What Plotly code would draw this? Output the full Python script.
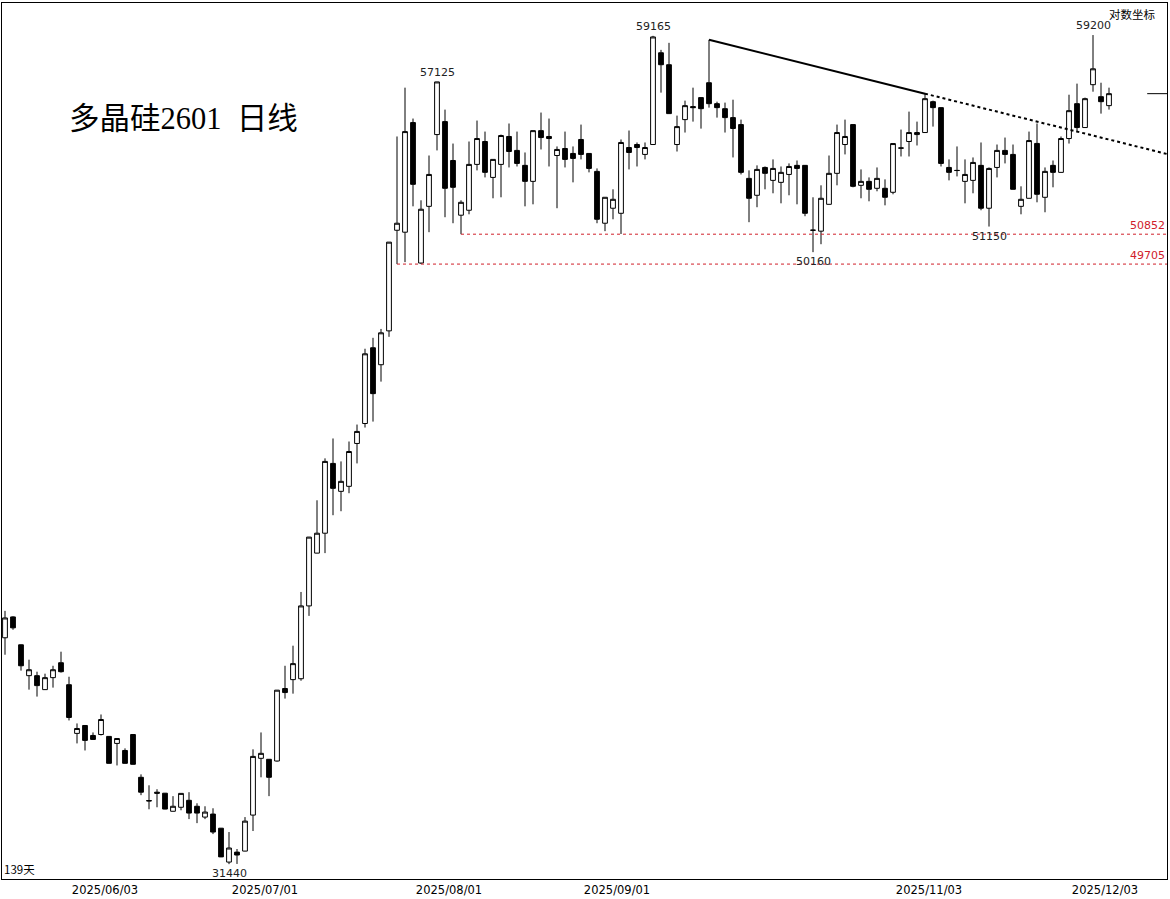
import math
import plotly.graph_objects as go

# ---------------- data ----------------
opens = [37370, 37970, 37170, 36305, 36305, 35920, 36250, 36665, 36055, 34740,
         34950, 34685, 34710, 34660, 34475, 34290, 34710, 33595, 33005, 33215,
         33190, 32735, 32835, 33010, 32860, 32590, 32665, 32315, 31490, 31730,
         31755, 32640, 34085, 34060, 34015, 35950, 36195, 36220, 38290, 39865,
         40475, 42690, 41790, 41950, 43345, 44010, 46630, 46030, 47235, 51005,
         50930, 55375, 49745, 51945, 54870, 55415, 53795, 51595, 51790, 53635,
         54580, 53105, 53635, 54790, 54210, 53595, 52945, 55035, 54790, 54000,
         54290, 54085, 54665, 54085, 53350, 51280, 51870, 51670, 54330, 54455,
         54045, 54455, 58405, 57875, 54455, 55500, 56055, 56440, 57085, 56180,
         55965, 55585, 55290, 53065, 52385, 53510, 52985, 52905, 53225, 53595,
         53595, 51010, 50970, 52025, 53270, 54455, 55290, 52785, 52945, 52665,
         52665, 52505, 54315, 54580, 54870, 54955, 56265, 56010, 53510, 53390,
         52945, 52985, 53595, 51870, 53510, 54210, 54045, 51945, 52265, 54500,
         52305, 53595, 53310, 54705, 56180, 55165, 57000, 56480, 56095]
highs = [38145, 37990, 37180, 36750, 36415, 36360, 36580, 36975, 36275, 35005,
         34960, 34765, 35245, 34665, 34610, 34345, 34715, 33670, 33390, 33290,
         33195, 33115, 33190, 33215, 32935, 32860, 32810, 32320, 32220, 31805,
         32590, 34320, 34765, 34065, 35910, 36580, 37145, 38700, 40360, 41505,
         42855, 43510, 42755, 43410, 43975, 46595, 46985, 47305, 50550, 54790,
         56870, 55545, 52185, 54000, 57125, 55925, 54495, 52185, 54580, 55460,
         54995, 53840, 54870, 55335, 54995, 54125, 55040, 55800, 55545, 54375,
         54995, 54375, 55290, 54090, 53470, 52305, 52625, 54665, 55040, 54540,
         54540, 59165, 58535, 58850, 55670, 56310, 56870, 56445, 58985, 56265,
         56225, 56350, 55500, 53390, 53595, 53550, 53840, 53550, 53675, 53795,
         53600, 52305, 52785, 54000, 55290, 55500, 55295, 53430, 53105, 53510,
         53025, 54500, 55080, 55840, 55415, 56610, 56310, 56015, 53840, 54375,
         53840, 53920, 54540, 53510, 54455, 54745, 54455, 52745, 54995, 55335,
         53510, 53795, 54790, 56565, 57045, 56440, 59200, 57085, 56870]
lows = [36890, 37600, 36445, 35920, 35730, 35910, 35975, 36390, 35085, 34475,
        34290, 34575, 34685, 33950, 33900, 33950, 33925, 33140, 32785, 32835,
        32785, 32730, 32760, 32540, 32440, 32540, 32170, 31610, 31440, 31445,
        31750, 32245, 33595, 33115, 34000, 35675, 35810, 36165, 38000, 39860,
        39865, 41035, 41160, 41730, 42690, 43875, 44075, 45440, 47020, 49705,
        49780, 51945, 49705, 50930, 54210, 51515, 51280, 50852, 51630, 53390,
        53105, 52265, 52305, 53510, 53550, 51945, 52025, 54250, 53550, 51870,
        53510, 52905, 53840, 53310, 51280, 50970, 51435, 50860, 53430, 53550,
        53840, 54455, 56655, 55750, 54165, 54955, 55415, 55120, 56010, 55585,
        54955, 53920, 53225, 51320, 51910, 52625, 52465, 52065, 52385, 52025,
        51555, 50160, 50465, 52020, 52785, 54045, 52705, 52265, 52145, 52545,
        51985, 52425, 53960, 53960, 54415, 54950, 55205, 53550, 52985, 53145,
        52065, 52465, 51790, 51150, 53105, 53675, 52620, 51630, 52260, 52105,
        51710, 52705, 53305, 54495, 54955, 55160, 56695, 55755, 55925]
closes = [37940, 37655, 36580, 36470, 36030, 36250, 36470, 36415, 35165, 34870,
          34555, 34580, 35110, 33955, 34605, 33955, 33930, 33215, 32995, 33190,
          32790, 32860, 33185, 32690, 32690, 32715, 32220, 31615, 31830, 31660,
          32490, 34135, 34215, 33595, 35905, 35840, 36640, 38290, 40355, 40475,
          42755, 41885, 42110, 43080, 43745, 46415, 45025, 47165, 50545, 51280,
          54995, 52825, 51830, 53225, 57120, 52665, 52705, 52105, 53635, 54705,
          53310, 53840, 54830, 54165, 53675, 52945, 55035, 54745, 54705, 54250,
          53840, 53880, 54045, 53470, 51435, 52305, 52225, 54540, 54125, 54330,
          54330, 59115, 57875, 55755, 55205, 56095, 56010, 55965, 56180, 56010,
          55585, 55125, 53310, 52265, 53430, 53270, 53470, 53310, 53550, 53470,
          51670, 51005, 52265, 53270, 54955, 54790, 52745, 52945, 52625, 53065,
          52305, 54495, 54305, 54955, 54955, 56395, 56010, 53675, 53310, 53385,
          53225, 53715, 51870, 53470, 54210, 54045, 52625, 52225, 54620, 52425,
          53350, 53310, 54705, 55880, 55165, 56395, 57695, 56265, 56610]

tick_index = [12, 32, 55, 76, 115, 137]
tick_labels = ["2025/06/03", "2025/07/01", "2025/08/01", "2025/09/01", "2025/11/03", "2025/12/03"]

# marked extremes: (candle index, price, above/below)
peak_marks = [(54, 57125, "above"), (81, 59165, "above"), (136, 59200, "above"),
              (28, 31440, "below"), (101, 50160, "below"), (123, 51150, "below")]
# support lines: (start index, price)
support_lines = [(57, 50852), (49, 49705)]
# trend line anchors (candle indices of the highs)
trend_start, trend_end = 88, 115

title_text = "多晶硅2601  日线"

# ---------------- figure ----------------
x = list(range(len(opens)))
x_min, x_max = -0.375, 145.25

fig = go.Figure()
fig.add_trace(go.Candlestick(
    x=x, open=opens, high=highs, low=lows, close=closes,
    increasing=dict(fillcolor="white", line=dict(color="black", width=1)),
    decreasing=dict(fillcolor="black", line=dict(color="black", width=1)),
    whiskerwidth=0, showlegend=False, hoverinfo="skip",
))

red = "#d0202a"
for start, price in support_lines:
    fig.add_trace(go.Scatter(x=[start, x_max], y=[price, price], mode="lines",
                             line=dict(color=red, width=1, dash="3px,3px"),
                             showlegend=False, hoverinfo="skip"))
    fig.add_annotation(xref="paper", x=1, xanchor="right", xshift=0,
                       y=math.log10(price), yanchor="bottom", yshift=0,
                       text=str(price), showarrow=False,
                       font=dict(family="DejaVu Sans", size=11, color=red))

# trend line
p0, p1 = highs[trend_start], highs[trend_end]
slope = (math.log10(p1) - math.log10(p0)) / (trend_end - trend_start)
p_end = 10 ** (math.log10(p1) + slope * (x_max - trend_end))
fig.add_trace(go.Scatter(x=[trend_start, trend_end], y=[p0, p1], mode="lines",
                         line=dict(color="black", width=2),
                         showlegend=False, hoverinfo="skip"))
fig.add_trace(go.Scatter(x=[trend_end, x_max], y=[p1, p_end], mode="lines",
                         line=dict(color="black", width=2, dash="3px,3px"),
                         showlegend=False, hoverinfo="skip"))

# last price marker
fig.add_shape(type="line", xref="paper", x0=0.983, x1=1.0,
              yref="y", y0=closes[-1], y1=closes[-1],
              line=dict(color="black", width=1))

for idx, price, pos in peak_marks:
    fig.add_annotation(x=idx, y=math.log10(price), text=str(price), showarrow=False,
                       yanchor="bottom" if pos == "above" else "top",
                       yshift=1 if pos == "above" else -1,
                       font=dict(family="DejaVu Sans", size=11, color="#222"))

fig.add_annotation(xref="paper", yref="paper", x=0.156, y=0.868, text=title_text,
                   showarrow=False, xanchor="center", yanchor="middle",
                   font=dict(family="Liberation Serif, Noto Sans CJK SC", size=30.5, color="black"))
fig.add_annotation(xref="paper", yref="paper", x=0.9914, y=1, xanchor="right", yanchor="top",
                   yshift=-1, text="对数坐标", showarrow=False,
                   font=dict(family="Noto Sans CJK SC", size=11.5, color="black"))
fig.add_annotation(xref="paper", yref="paper", x=0, y=0, xanchor="left", yanchor="bottom",
                   text="139天", showarrow=False,
                   font=dict(family="Noto Sans CJK SC", size=11.5, color="black"))

fig.update_layout(
    width=1170, height=899,
    margin=dict(l=2, r=3, t=2, b=18),
    paper_bgcolor="white", plot_bgcolor="white",
    boxgap=0.15,
    xaxis=dict(range=[x_min, x_max], tickvals=tick_index, ticktext=tick_labels,
               showline=True, mirror=True, linecolor="black", linewidth=1,
               showgrid=False, zeroline=False, ticks="",
               tickfont=dict(family="DejaVu Sans", size=11.5, color="black"),
               rangeslider=dict(visible=False), ticklabelshift=4),
    yaxis=dict(type="log", range=[4.49256, 4.78295], showticklabels=False,
               showline=True, mirror=True, linecolor="black", linewidth=1,
               showgrid=False, zeroline=False, ticks=""),
)

fig.write_html("out.html", config={"displayModeBar": False},
               post_script="document.body.style.margin='0';document.body.style.overflow='hidden';")
